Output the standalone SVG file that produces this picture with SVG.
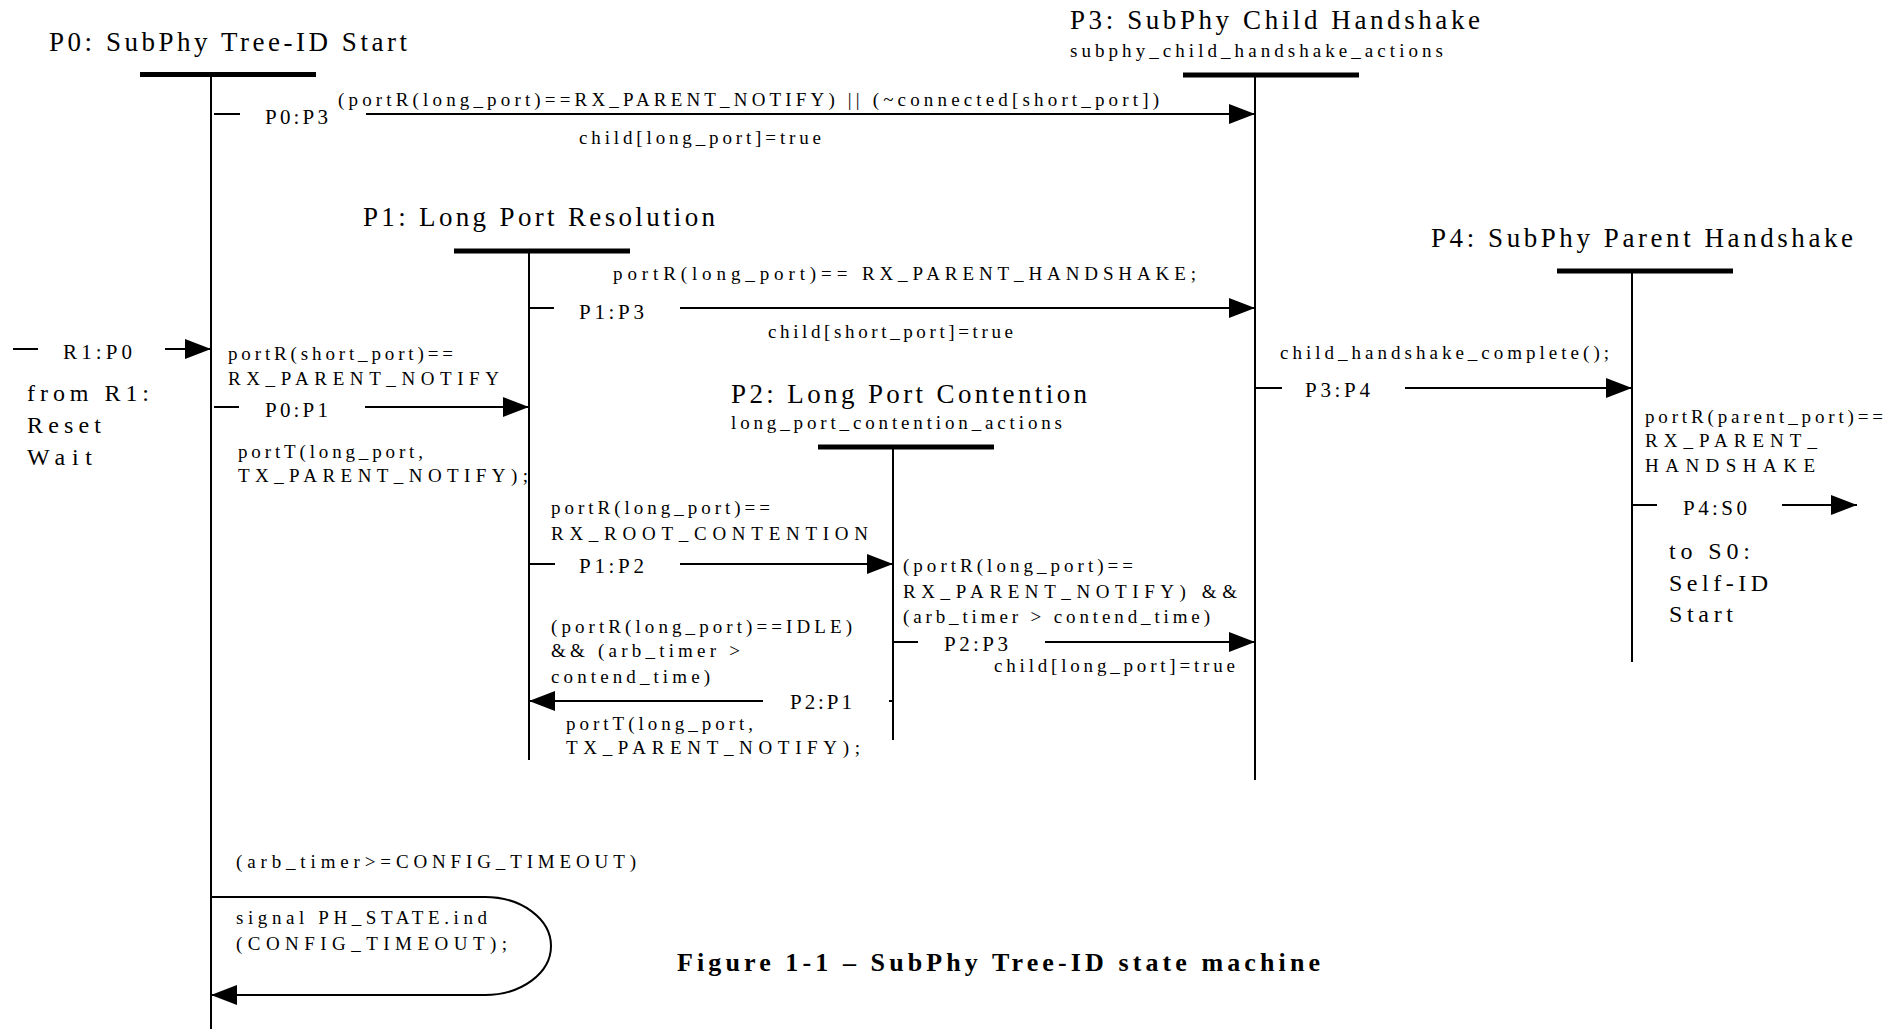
<svg xmlns="http://www.w3.org/2000/svg" width="1904" height="1029" viewBox="0 0 1904 1029">
  <style>
    text { font-family: "Liberation Serif", "Times New Roman", serif; fill: #000; }
    .title { font-size: 27px; }
    .sub { font-size: 19px; }
    .lbl { font-size: 21px; }
    .cond { font-size: 19px; }
    .side { font-size: 24px; }
    .caption { font-size: 26px; font-weight: bold; }
    .bar { stroke: #000; stroke-width: 5; }
    .life { stroke: #000; stroke-width: 2; }
    .edge { stroke: #000; stroke-width: 2; fill: none; }
  </style>
  <defs>
    <marker id="arrow" markerUnits="userSpaceOnUse" markerWidth="26" markerHeight="20" refX="26" refY="10" orient="auto">
      <path d="M0,0 L26,10 L0,20 Z" fill="#000"/>
    </marker>
  </defs>
  <rect width="1904" height="1029" fill="#fff"/>

  <!-- states: title, bar and lifeline -->
  <g id="P0">
    <text class="title" x="49" y="51" textLength="358">P0: SubPhy Tree-ID Start</text>
    <line class="bar" x1="140" y1="74.5" x2="316" y2="74.5"/>
    <line class="life" x1="211" y1="74" x2="211" y2="1029"/>
  </g>
  <g id="P3">
    <text class="title" x="1070" y="29" textLength="410">P3: SubPhy Child Handshake</text>
    <text class="sub" x="1070" y="57" textLength="373">subphy_child_handshake_actions</text>
    <line class="bar" x1="1183" y1="75" x2="1359" y2="75"/>
    <line class="life" x1="1255" y1="75" x2="1255" y2="780"/>
  </g>
  <g id="P1">
    <text class="title" x="363" y="226" textLength="352">P1: Long Port Resolution</text>
    <line class="bar" x1="454" y1="251" x2="630" y2="251"/>
    <line class="life" x1="529" y1="251" x2="529" y2="760"/>
  </g>
  <g id="P2">
    <text class="title" x="731" y="403" textLength="356">P2: Long Port Contention</text>
    <text class="sub" x="731" y="429" textLength="331">long_port_contention_actions</text>
    <line class="bar" x1="818" y1="447" x2="994" y2="447"/>
    <line class="life" x1="893" y1="447" x2="893" y2="740"/>
  </g>
  <g id="P4">
    <text class="title" x="1431" y="247" textLength="422">P4: SubPhy Parent Handshake</text>
    <line class="bar" x1="1557" y1="271" x2="1733" y2="271"/>
    <line class="life" x1="1632" y1="271" x2="1632" y2="662"/>
  </g>
  <g id="R1">
    <text class="side" x="27" y="401" textLength="122">from R1:</text>
    <text class="side" x="27" y="433" textLength="74">Reset</text>
    <text class="side" x="27" y="465" textLength="65">Wait</text>
  </g>
  <g id="S0">
    <text class="side" x="1669" y="559" textLength="81">to S0:</text>
    <text class="side" x="1669" y="591" textLength="99">Self-ID</text>
    <text class="side" x="1669" y="622" textLength="64">Start</text>
  </g>

  <!-- transitions -->
  <g id="connectors">
    <!-- P0:P3 -->
    <line class="edge" x1="214" y1="114" x2="240" y2="114"/>
    <line class="edge" x1="366" y1="114" x2="1255" y2="114" marker-end="url(#arrow)"/>
    <!-- P1:P3 -->
    <line class="edge" x1="529" y1="308" x2="554" y2="308"/>
    <line class="edge" x1="680" y1="308" x2="1255" y2="308" marker-end="url(#arrow)"/>
    <!-- R1:P0 -->
    <line class="edge" x1="13" y1="349" x2="38" y2="349"/>
    <line class="edge" x1="165" y1="349" x2="211" y2="349" marker-end="url(#arrow)"/>
    <!-- P0:P1 -->
    <line class="edge" x1="214" y1="407" x2="239" y2="407"/>
    <line class="edge" x1="365" y1="407" x2="529" y2="407" marker-end="url(#arrow)"/>
    <!-- P3:P4 -->
    <line class="edge" x1="1255" y1="388" x2="1282" y2="388"/>
    <line class="edge" x1="1405" y1="388" x2="1632" y2="388" marker-end="url(#arrow)"/>
    <!-- P1:P2 -->
    <line class="edge" x1="529" y1="564" x2="555" y2="564"/>
    <line class="edge" x1="680" y1="564" x2="893" y2="564" marker-end="url(#arrow)"/>
    <!-- P2:P3 -->
    <line class="edge" x1="893" y1="642" x2="918" y2="642"/>
    <line class="edge" x1="1045" y1="642" x2="1255" y2="642" marker-end="url(#arrow)"/>
    <!-- P2:P1 -->
    <line class="edge" x1="889" y1="701" x2="893" y2="701"/>
    <line class="edge" x1="763" y1="701" x2="529" y2="701" marker-end="url(#arrow)"/>
    <!-- P4:S0 -->
    <line class="edge" x1="1632" y1="505" x2="1657" y2="505"/>
    <line class="edge" x1="1782" y1="505" x2="1857" y2="505" marker-end="url(#arrow)"/>
    <!-- P0 timeout self loop -->
    <path class="edge" d="M211,897 H485 A66,49 0 0 1 485,995 H211" marker-end="url(#arrow)"/>
  </g>

  <!-- transition labels -->
  <g id="labels">
    <text class="lbl" x="265" y="124" textLength="63">P0:P3</text>
    <text class="cond" x="338" y="106" textLength="821">(portR(long_port)==RX_PARENT_NOTIFY) || (~connected[short_port])</text>
    <text class="cond" x="579" y="144" textLength="242">child[long_port]=true</text>

    <text class="cond" x="613" y="280" textLength="583">portR(long_port)== RX_PARENT_HANDSHAKE;</text>
    <text class="lbl" x="579" y="319" textLength="65">P1:P3</text>
    <text class="cond" x="768" y="338" textLength="245">child[short_port]=true</text>

    <text class="lbl" x="63" y="359" textLength="69">R1:P0</text>

    <text class="cond" x="228" y="360" textLength="225">portR(short_port)==</text>
    <text class="cond" x="228" y="385" textLength="271">RX_PARENT_NOTIFY</text>
    <text class="lbl" x="265" y="417" textLength="63">P0:P1</text>
    <text class="cond" x="238" y="458" textLength="185">portT(long_port,</text>
    <text class="cond" x="238" y="482" textLength="290">TX_PARENT_NOTIFY);</text>

    <text class="cond" x="1280" y="359" textLength="329">child_handshake_complete();</text>
    <text class="lbl" x="1305" y="397" textLength="65">P3:P4</text>

    <text class="cond" x="1645" y="423" textLength="238">portR(parent_port)==</text>
    <text class="cond" x="1645" y="447" textLength="172">RX_PARENT_</text>
    <text class="cond" x="1645" y="472" textLength="170">HANDSHAKE</text>
    <text class="lbl" x="1683" y="515" textLength="64">P4:S0</text>

    <text class="cond" x="551" y="514" textLength="219">portR(long_port)==</text>
    <text class="cond" x="551" y="540" textLength="317">RX_ROOT_CONTENTION</text>
    <text class="lbl" x="579" y="573" textLength="65">P1:P2</text>

    <text class="cond" x="903" y="572" textLength="230">(portR(long_port)==</text>
    <text class="cond" x="903" y="598" textLength="334">RX_PARENT_NOTIFY) &amp;&amp;</text>
    <text class="cond" x="903" y="623" textLength="307">(arb_timer &gt; contend_time)</text>
    <text class="lbl" x="944" y="651" textLength="64">P2:P3</text>
    <text class="cond" x="994" y="672" textLength="241">child[long_port]=true</text>

    <text class="cond" x="551" y="633" textLength="301">(portR(long_port)==IDLE)</text>
    <text class="cond" x="551" y="657" textLength="189">&amp;&amp; (arb_timer &gt;</text>
    <text class="cond" x="551" y="683" textLength="159">contend_time)</text>
    <text class="lbl" x="790" y="709" textLength="62">P2:P1</text>
    <text class="cond" x="566" y="730" textLength="187">portT(long_port,</text>
    <text class="cond" x="566" y="754" textLength="294">TX_PARENT_NOTIFY);</text>

    <text class="cond" x="236" y="868" textLength="400">(arb_timer&gt;=CONFIG_TIMEOUT)</text>
    <text class="cond" x="236" y="924" textLength="251">signal PH_STATE.ind</text>
    <text class="cond" x="236" y="950" textLength="271">(CONFIG_TIMEOUT);</text>
  </g>

  <text class="caption" x="677" y="971" textLength="643">Figure 1-1 – SubPhy Tree-ID state machine</text>
</svg>
